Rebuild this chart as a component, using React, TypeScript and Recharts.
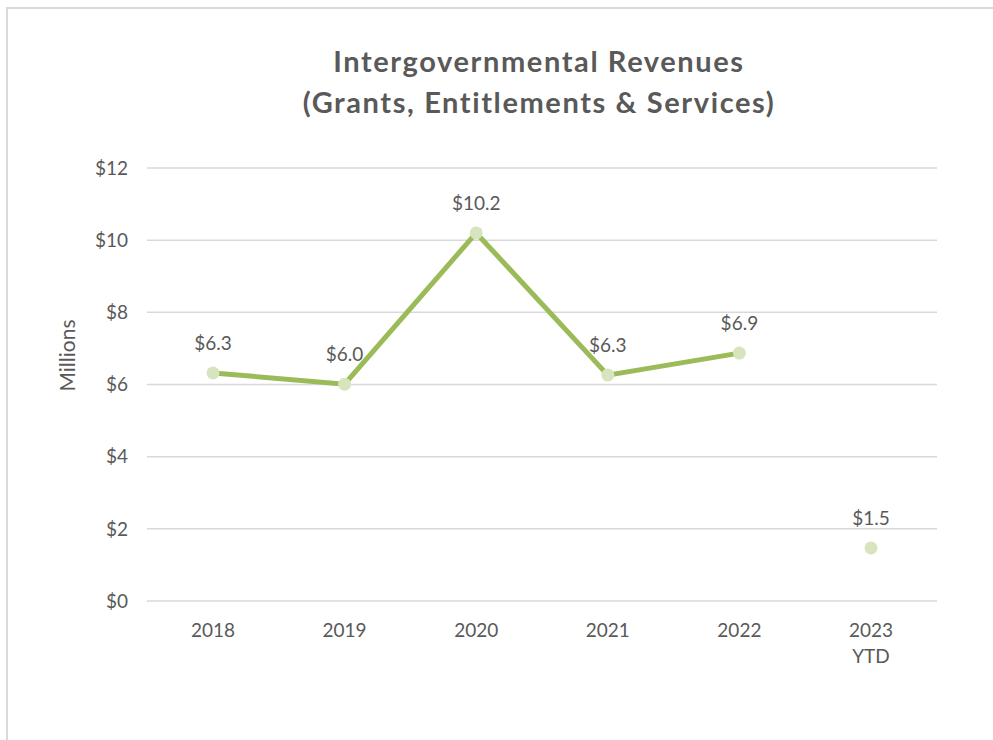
import { LineChart, Line, XAxis, YAxis, CartesianGrid, LabelList, Label } from 'recharts'

const categories = ['2018', '2019', '2020', '2021', '2022', '2023\nYTD']
const revenue = [6.32, 6.01, 10.2, 6.26, 6.87, null]
const ytdRevenue = [null, null, null, null, null, 1.47]
const yTicks = [0, 2, 4, 6, 8, 10, 12]

const data = categories.map((year, i) => ({
  year,
  revenue: revenue[i],
  ytd: ytdRevenue[i],
}))

const TEXT = '#595959'
const FONT = 'Lato, "Open Sans", sans-serif'

const YearTick = ({ x, y, payload }: { x?: number; y?: number; payload?: { value: string } }) => {
  const lines = (payload?.value ?? '').split('\n')
  return (
    <text x={x} y={y} textAnchor="middle" fill={TEXT} fontSize={19} fontFamily={FONT}>
      {lines.map((line, i) => (
        <tspan key={line} x={x} dy={i === 0 ? 28 : 26}>
          {line}
        </tspan>
      ))}
    </text>
  )
}

const ValueLabel = (props: { x?: number; y?: number; value?: number | null }) => {
  const { x, y, value } = props
  if (value == null || x == null || y == null) return null
  return (
    <text x={x} y={y - 23} textAnchor="middle" fill={TEXT} fontSize={19} fontFamily={FONT}>
      ${value.toFixed(1)}
    </text>
  )
}

export default function App() {
  return (
    <div style={{ position: 'relative', width: 993, height: 740, background: '#fff', overflow: 'hidden' }}>
      <style>{'body{margin:0}'}</style>
      <div
        style={{
          position: 'absolute',
          left: 6,
          top: 7,
          width: 1000,
          height: 800,
          borderLeft: '2px solid #d9d9d9',
          borderTop: '2px solid #d9d9d9',
        }}
      />
      <div
        style={{
          position: 'absolute',
          left: 0,
          width: 1078,
          top: 41,
          textAlign: 'center',
          fontFamily: FONT,
          fontWeight: 700,
          fontSize: 29,
          letterSpacing: 1.6,
          lineHeight: '40.5px',
          color: TEXT,
        }}
      >
        <div>Intergovernmental Revenues</div>
        <div>(Grants, Entitlements &amp; Services)</div>
      </div>
      <div style={{ position: 'absolute', left: 0, top: 0 }}>
        <LineChart
          width={993}
          height={740}
          data={data}
          margin={{ top: 168, right: 56, bottom: 109, left: 87 }}
        >
          <CartesianGrid vertical={false} stroke="#d9d9d9" strokeWidth={1.5} />
          <XAxis
            dataKey="year"
            axisLine={false}
            tickLine={false}
            height={30}
            interval={0}
            padding={{ left: 66, right: 66 }}
            tick={<YearTick />}
          />
          <YAxis
            domain={[0, 12]}
            ticks={yTicks}
            axisLine={false}
            tickLine={false}
            width={60}
            tickMargin={13}
            tickFormatter={(v: number) => `$${v}`}
            tick={{ fill: TEXT, fontSize: 19, fontFamily: FONT }}
          >
            <Label
              content={({ viewBox }: { viewBox?: { x: number; y: number; height: number } }) => {
                const vb = viewBox ?? { x: 0, y: 0, height: 0 }
                const cx = vb.x - 21
                const cy = vb.y + vb.height / 2 - 29
                return (
                  <text
                    x={cx}
                    y={cy}
                    transform={`rotate(-90 ${cx} ${cy})`}
                    textAnchor="middle"
                    dominantBaseline="central"
                    fill={TEXT}
                    fontSize={21}
                    fontFamily={FONT}
                  >
                    Millions
                  </text>
                )
              }}
            />
          </YAxis>
          <Line
            dataKey="revenue"
            stroke="#9bbb59"
            strokeWidth={5}
            dot={{ r: 6.5, fill: '#d7e4bd', stroke: 'none' }}
            activeDot={false}
            isAnimationActive={false}
          >
            <LabelList dataKey="revenue" content={<ValueLabel />} />
          </Line>
          <Line
            dataKey="ytd"
            stroke="none"
            dot={{ r: 6.5, fill: '#d7e4bd', stroke: 'none' }}
            activeDot={false}
            isAnimationActive={false}
          >
            <LabelList dataKey="ytd" content={<ValueLabel />} />
          </Line>
        </LineChart>
      </div>
    </div>
  )
}
